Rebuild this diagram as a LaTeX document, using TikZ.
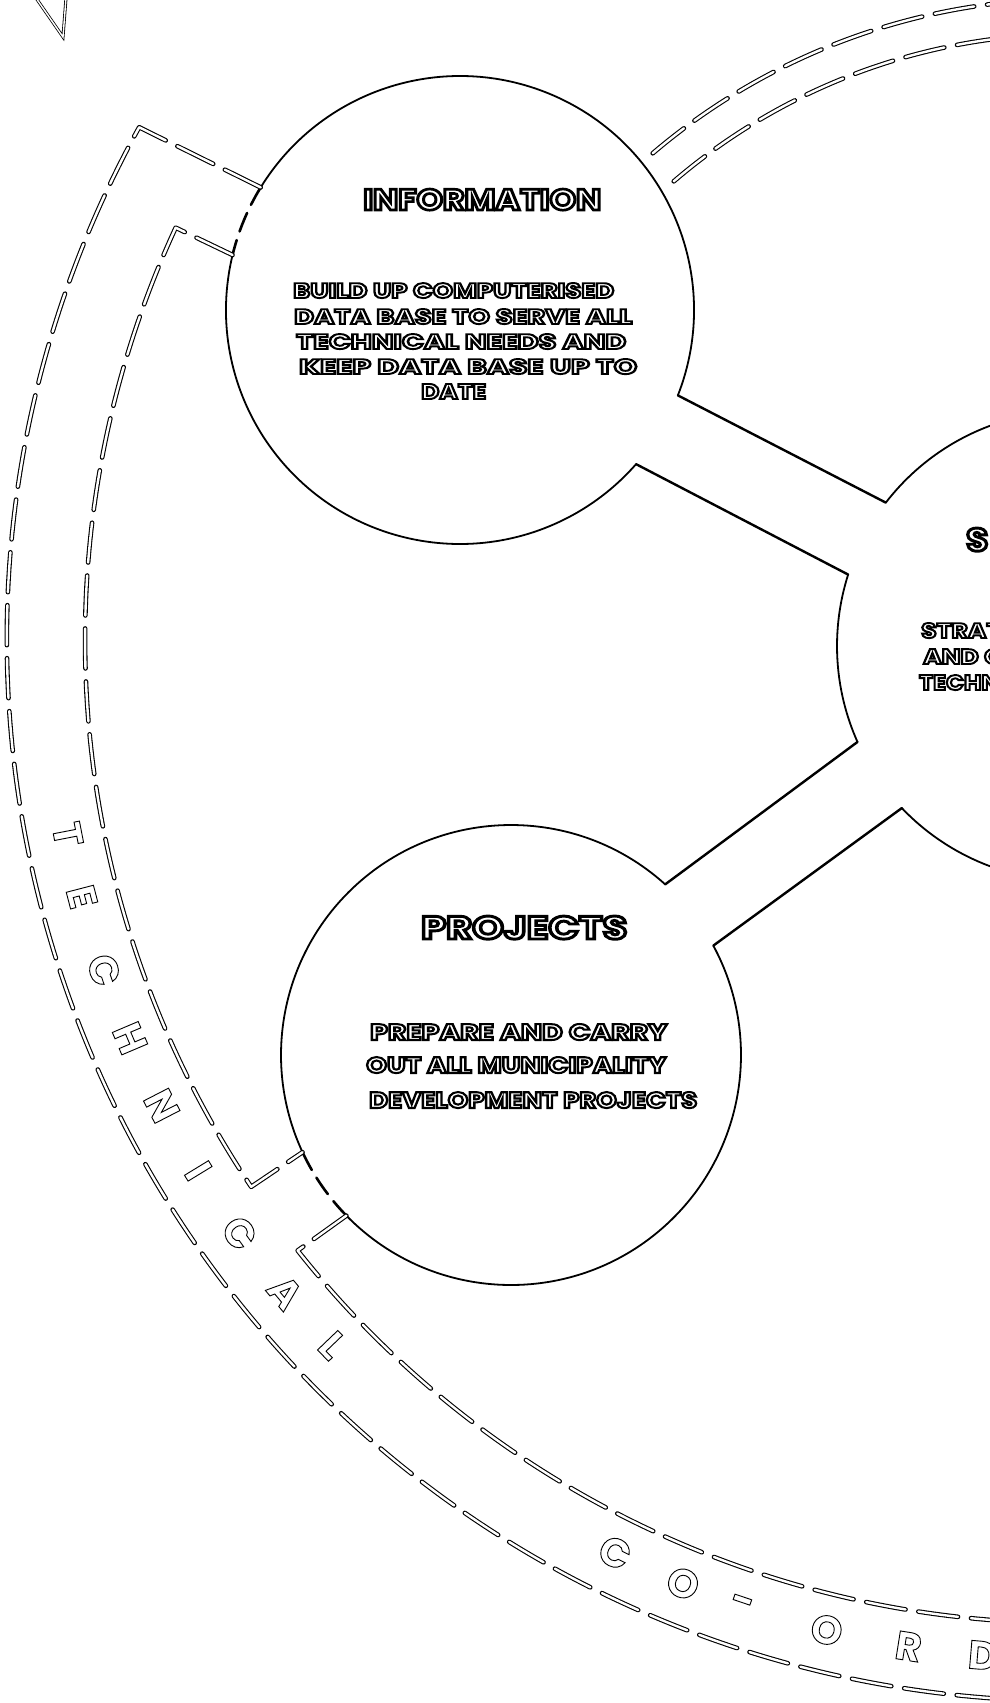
\documentclass[tikz,border=0pt]{standalone}
\usepackage{fontspec}
\setmainfont{Poppins}
\usepackage{graphicx}
\usetikzlibrary{calc}
\newcommand\outlinetext[1]{\special{pdf:literal direct 1 Tr 0.9 w}#1\special{pdf:literal direct 0 Tr}}
\begin{document}
\begin{tikzpicture}[x=1pt,y=1pt,
  circ/.style={line width=1.8pt, line join=round},
  spoke/.style={line width=2.4pt, line cap=round},
  cdash/.style={line width=2.6pt, line cap=round, dash pattern=on 20pt off 9pt},
  ring/.style={draw=black, line width=1.1pt, double=white, double distance=2.4pt, line cap=round, line join=round, dash pattern=on 40pt off 13pt},
  ringtxt/.style={font=\fontsize{40}{40}\selectfont\bfseries, inner sep=0pt},
  lbl/.style={inner sep=0pt, anchor=base west, font=\bfseries},
]
\useasboundingbox (0,0) rectangle (990,-1703);
\clip (0,0) rectangle (990,-1703);
\fill[white] (0,0) rectangle (990,-1703);

% centres
\coordinate (H) at (1072,-646);
\coordinate (I) at (460,-310);
\coordinate (P) at (511,-1055);
\coordinate (R) at (1068,-640);

% junction points
\coordinate (U1) at ($(I)+(-21.4:234)$);
\coordinate (L1) at ($(I)+(-41.2:234)$);
\coordinate (E) at ($(I)+(148.4:234)$);
\coordinate (F) at ($(I)+(166.4:234)$);
\coordinate (U2) at ($(H)+(142.4:235)$);
\coordinate (L2) at ($(H)+(162.3:235)$);
\coordinate (U3) at ($(H)+(204.1:235)$);
\coordinate (L3) at ($(H)+(223.6:235)$);
\coordinate (PU) at ($(P)+(47.9:230)$);
\coordinate (PL) at ($(P)+(28.4:230)$);
\coordinate (A) at ($(P)+(205:230)$);
\coordinate (B) at ($(P)+(224.3:230)$);
\coordinate (O1) at ($(R)+(151.1:1061)$);
\coordinate (G) at ($(R)+(155.2:983)$);
\coordinate (C) at ($(R)+(213.8:983)$);
\coordinate (D) at ($(R)+(218.4:983)$);
\coordinate (T1) at ($(H)+(130.4:647)$);
\coordinate (T2) at ($(H)+(130.6:612)$);
\coordinate (V1) at (36,2);
\coordinate (V2) at (63,-37);
\coordinate (V3) at (66,2);

% V fragment at top left
\draw[line width=0.8pt, double=white, double distance=1.4pt] (V1) -- (V2) -- (V3);

% INFORMATION circle
\draw[circ] (U1) arc[start angle=-21.4, end angle=148.4, radius=234];
\draw[cdash] (E) arc[start angle=148.4, end angle=166.4, radius=234];
\draw[circ] (F) arc[start angle=166.4, end angle=318.8, radius=234];

% hub circle (cut by the right edge)
\draw[circ] (U2) arc[start angle=142.4, end angle=100, radius=235];
\draw[circ] (L2) arc[start angle=162.3, end angle=204.1, radius=235];
\draw[circ] (L3) arc[start angle=223.6, end angle=262, radius=235];

% PROJECTS circle
\draw[circ] (PU) arc[start angle=47.9, end angle=205, radius=230];
\draw[cdash] (A) arc[start angle=205, end angle=224.3, radius=230];
\draw[circ] (B) arc[start angle=224.3, end angle=388.4, radius=230];

% spokes
\draw[spoke] (U1) -- (U2);
\draw[spoke] (L1) -- (L2);
\draw[spoke] (PU) -- (U3);
\draw[spoke] (PL) -- (L3);

% outer dashed band
\draw[ring] (E) -- (O1) arc[start angle=151.1, end angle=275, radius=1061];
\draw[ring] (F) -- (G) arc[start angle=155.2, end angle=213.8, radius=983] -- (A);
\draw[ring] (B) -- (D) arc[start angle=218.4, end angle=275, radius=983];

% upper right dashed band
\draw[ring] (T1) arc[start angle=130.4, end angle=88, radius=647];
\draw[ring] (T2) arc[start angle=130.6, end angle=88, radius=612];

% band lettering
\foreach \a/\t [count=\k] in {191.0/T, 194.6/E, 198.9/C, 203.0/H, 207.2/N, 211.4/I, 215.6/C, 219.8/A, 223.8/L, 243.6/C, 247.8/O, 251.3/-, 256.3/O, 261.0/R, 265.2/D}
  \node[ringtxt, rotate=\a+90] (band\k) at ($(R)+(\a:1019)$) {\outlinetext{\t}};

% INFORMATION texts
\node[lbl] (infot) at (363,-210) {\resizebox{238pt}{21pt}{\outlinetext{INFORMATION}}};
\node[lbl] (info1) at (293,-298) {\resizebox{321pt}{15pt}{\outlinetext{BUILD UP COMPUTERISED}}};
\node[lbl] (info2) at (294,-324) {\resizebox{338pt}{15pt}{\outlinetext{DATA BASE TO SERVE ALL}}};
\node[lbl] (info3) at (296,-349) {\resizebox{330pt}{15pt}{\outlinetext{TECHNICAL NEEDS AND}}};
\node[lbl] (info4) at (299,-374) {\resizebox{338pt}{15pt}{\outlinetext{KEEP DATA BASE UP TO}}};
\node[lbl] (info5) at (421,-399) {\resizebox{65pt}{15pt}{\outlinetext{DATE}}};

% PROJECTS texts
\node[lbl] (projt) at (421,-939) {\resizebox{206pt}{23pt}{\outlinetext{PROJECTS}}};
\node[lbl] (proj1) at (370,-1040) {\resizebox{297pt}{16pt}{\outlinetext{PREPARE AND CARRY}}};
\node[lbl] (proj2) at (366,-1073) {\resizebox{300pt}{16pt}{\outlinetext{OUT ALL MUNICIPALITY}}};
\node[lbl] (proj3) at (369,-1108) {\resizebox{328pt}{16pt}{\outlinetext{DEVELOPMENT PROJECTS}}};

% hub texts (cut by the right edge)
\node[lbl] (hubt) at (966,-551) {\resizebox{22pt}{23pt}{\outlinetext{S}}};
\node[lbl] (hub1) at (921,-638) {\resizebox{80pt}{15pt}{\outlinetext{STRAT}}};
\node[lbl] (hub2) at (923,-664) {\resizebox{80pt}{15pt}{\outlinetext{AND C}}};
\node[lbl] (hub3) at (919,-690) {\resizebox{80pt}{15pt}{\outlinetext{TECHN}}};
\end{tikzpicture}
\end{document}
